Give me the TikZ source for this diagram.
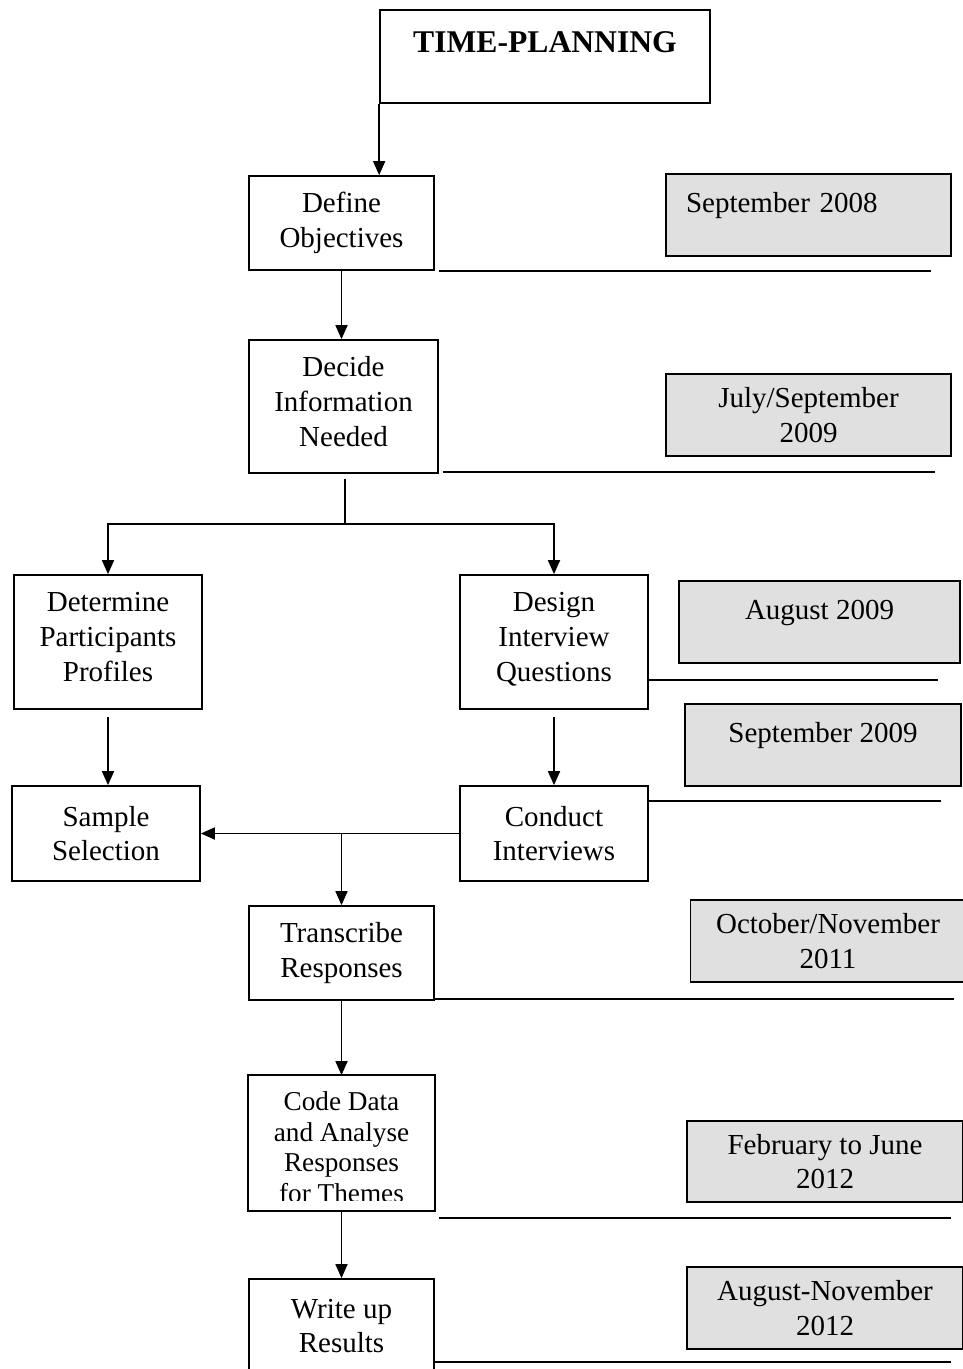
\documentclass[tikz,border=0pt]{standalone}
\usepackage{fontspec}
\setmainfont{Liberation Serif}
\usepackage{tikz}
\usetikzlibrary{arrows.meta,positioning,shapes}
\definecolor{dategrey}{RGB}{224,224,224}

\begin{document}
\begin{tikzpicture}[x=0.02cm, y=-0.02cm, line width=1pt,
	stepbox/.style={draw, rectangle, align=center, minimum width=3.7cm, minimum height=1.88cm, inner sep=1pt, font=\fontsize{16.5}{19.8}\selectfont},
	datebox/.style={draw, rectangle, fill=dategrey, align=center, minimum width=5.52cm, minimum height=1.64cm, font=\fontsize{16.5}{19.8}\selectfont},
	arr/.style={-{Triangle[length=0.28cm, width=0.24cm]}}]
	\useasboundingbox (0,0) rectangle (963,1369);
	
	% Titre
	\node[draw, rectangle, align=center, minimum width=6.6cm, minimum height=1.86cm, font=\bfseries\fontsize{18}{22}\selectfont] (title) at (545,56.5) {TIME-PLANNING\\[-6pt]\mbox{}};
	
	% Etapes
	\node[stepbox] (def) at (341.5,223) {Define\\Objectives};
	\node[stepbox, minimum width=3.78cm, minimum height=2.66cm] (dec) at (343.5,406.5) {Decide\\Information\\Needed\\[-14pt]\mbox{}};
	\node[stepbox, minimum width=3.76cm, minimum height=2.68cm] (det) at (108,642) {Determine\\Participants\\Profiles\\[-14pt]\mbox{}};
	\node[stepbox, minimum width=3.76cm, minimum height=2.68cm] (des) at (554,642) {Design\\Interview\\Questions\\[-14pt]\mbox{}};
	\node[stepbox, minimum width=3.76cm, minimum height=1.9cm] (samp) at (106,833.5) {Sample\\Selection};
	\node[stepbox, minimum width=3.76cm, minimum height=1.9cm] (cond) at (554,833.5) {Conduct\\Interviews};
	\node[stepbox] (trans) at (341.5,953) {Transcribe\\Responses};
	\begin{scope}
		\clip (249,1076) rectangle (434,1200);
		\node[stepbox, draw=none, minimum height=2.68cm, font=\fontsize{15.5}{17.4}\selectfont] (code) at (341.5,1143) {\mbox{}\\[-2pt]Code Data\\and Analyse\\Responses\\for Themes};
	\end{scope}
	\draw (code.north west) rectangle (code.south east);
	\node[stepbox] (write) at (341.5,1326) {Write up\\Results};
	
	% Dates
	\node[datebox, minimum width=5.7cm, text width=4.9cm, inner xsep=0.4cm, align=left] (g1) at (808.5,215) {September 2008\\[-6pt]\mbox{}};
	\node[datebox, minimum width=5.7cm] (g2) at (808.5,415) {July/September\\2009};
	\node[datebox, minimum width=5.62cm] (g3) at (819.5,622) {August 2009\\[-6pt]\mbox{}};
	\node[datebox] (g4) at (823,745) {September 2009\\[-6pt]\mbox{}};
	\node[datebox, minimum width=5.5cm] (g5) at (828,941) {October/November\\2011};
	\node[datebox, minimum height=1.62cm] (g6) at (825,1161.5) {February to June\\2012};
	\node[datebox] (g7) at (825,1308) {August-November\\2012};
	
	% Lignes du calendrier
	\draw ([xshift=0.08cm]def.south east) -- ++(492,0);
	\draw ([xshift=0.08cm,yshift=0.04cm]dec.south east) -- ++(492,0);
	\draw ([yshift=0.6cm]des.south east) -- ++(289,0);
	\draw ([yshift=-0.32cm]cond.north east) -- ++(292,0);
	\draw ([yshift=0.04cm]trans.south east) -- ++(519,0);
	\draw ([xshift=0.08cm,yshift=-0.14cm]code.south east) -- ++(512,0);
	\draw ([yshift=-1.68cm]write.north east) -- ++(516,0);
	
	% Fleches
	\draw[arr] (title.south west) -- (title.south west |- def.north);
	\draw[arr] (def.south) -- (def.south |- dec.north);
	\coordinate (split) at (345,524);
	\draw ([yshift=-0.1cm]dec.south -| split) -- (split);
	\draw[arr] (split) -| (det.north);
	\draw[arr] (split) -| (des.north);
	\draw[arr, shorten <=0.14cm] (det.south) -- (samp.north -| det.south);
	\draw[arr, shorten <=0.14cm] (des.south) -- (cond.north);
	\draw[arr] (cond.west) -- (samp.east);
	\draw[arr] (trans.north |- cond.west) -- (trans.north);
	\draw[arr] (trans.south) -- (code.north);
	\draw[arr] (code.south) -- (write.north);
\end{tikzpicture}
\end{document}
